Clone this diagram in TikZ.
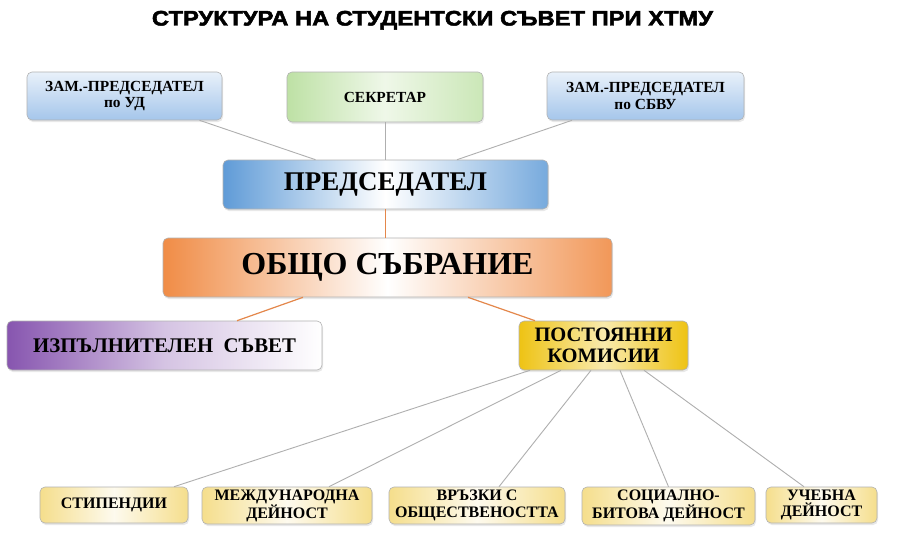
\documentclass[tikz,border=0pt]{standalone}
\usepackage{fontspec}
\usepackage{graphicx}
\setmainfont{Liberation Serif}
\newfontfamily\ttlfont[BoldFeatures={FakeBold=2.2}]{Liberation Sans}
\usetikzlibrary{shadows}
\definecolor{LineG}{RGB}{175,175,175}
\definecolor{LineO}{RGB}{228,135,75}
\definecolor{ZamB}{RGB}{165,198,235}
\definecolor{SekG}{RGB}{190,225,165}
\definecolor{PredB}{RGB}{95,155,215}
\definecolor{ObsO}{RGB}{240,140,70}
\definecolor{IzpP}{RGB}{135,85,175}
\definecolor{PkY}{RGB}{238,195,20}
\definecolor{KomY}{RGB}{245,222,140}
\tikzset{
  bbase/.style={draw=black!30,line width=0.6pt,rounded corners=5pt,align=center,inner sep=1pt,
    font=\bfseries,drop shadow={opacity=0.18,shadow xshift=1pt,shadow yshift=-2pt}},
  bzam/.style={bbase,top color=ZamB!25,bottom color=ZamB,font=\bfseries\fontsize{15.4}{16.8}\selectfont},
  bsek/.style={bbase,left color=SekG,right color=SekG!80,middle color=SekG!25,font=\bfseries\fontsize{15.4}{16.5}\selectfont},
  bpred/.style={bbase,left color=PredB,right color=PredB!85,middle color=white,font=\bfseries\fontsize{27}{29}\selectfont},
  bobs/.style={bbase,left color=ObsO,right color=ObsO!90,middle color=white,font=\bfseries\fontsize{32}{34}\selectfont},
  bizp/.style={bbase,left color=IzpP,right color=white,middle color=IzpP!35,font=\bfseries\fontsize{20.8}{22}\selectfont},
  bpk/.style={bbase,left color=PkY,right color=PkY,middle color=PkY!35,font=\bfseries\fontsize{20.5}{21.5}\selectfont},
  bkom/.style={bbase,left color=KomY,right color=KomY,middle color=KomY!15,font=\bfseries\fontsize{16}{16.5}\selectfont},
  blink/.style={draw=LineG,line width=0.9pt},
  borg/.style={draw=LineO,line width=1.2pt},
  bttl/.style={font=\ttlfont\bfseries\fontsize{21}{21}\selectfont,inner sep=0pt,anchor=base}
}

\begin{document}
\begin{tikzpicture}[x=1pt,y=-1pt]
\useasboundingbox[fill=white] (0,0) rectangle (899,543);
\node[bttl] (ttl) at (432.5,25.5) {\scalebox{1.13}[1]{СТРУКТУРА НА СТУДЕНТСКИ СЪВЕТ ПРИ ХТМУ}};
% top row
\node[bzam,minimum width=195pt,minimum height=48pt] (zud) at (124.5,96) {ЗАМ.-ПРЕДСЕДАТЕЛ\\ по УД};
\node[bsek,minimum width=196pt,minimum height=50pt] (sek) at (385,97) {СЕКРЕТАР};
\node[bzam,minimum width=197pt,minimum height=48pt] (zsb) at (645.5,96) {ЗАМ.-ПРЕДСЕДАТЕЛ\\ по СБВУ};
% middle
\node[bpred,minimum width=325pt,minimum height=49pt] (pred) at (385.5,184.5) {ПРЕДСЕДАТЕЛ};
\node[bobs,minimum width=449pt,minimum height=59pt] (obs) at (387.5,267.5) {ОБЩО СЪБРАНИЕ};
\node[bizp,minimum width=315pt,minimum height=49pt] (izp) at (164.5,345.5) {ИЗПЪЛНИТЕЛЕН\ \ СЪВЕТ};
\node[bpk,minimum width=169pt,minimum height=49pt] (pk) at (603.5,345.5) {ПОСТОЯННИ\\ КОМИСИИ};
% commissions
\node[bkom,minimum width=148pt,minimum height=36pt] (stp) at (114,505) {СТИПЕНДИИ};
\node[bkom,minimum width=170pt,minimum height=37pt] (mdn) at (287,505.5) {МЕЖДУНАРОДНА\\ ДЕЙНОСТ};
\node[bkom,minimum width=176pt,minimum height=37pt] (vrz) at (477,505.5) {ВРЪЗКИ С\\ ОБЩЕСТВЕНОСТТА};
\node[bkom,minimum width=173pt,minimum height=38pt] (sbd) at (668.5,506) {СОЦИАЛНО-\\ БИТОВА ДЕЙНОСТ};
\node[bkom,minimum width=111pt,minimum height=36pt] (ucd) at (821.5,505) {УЧЕБНА\\ ДЕЙНОСТ};
% links
\draw[blink] ([xshift=75pt]zud.south) -- ([xshift=-70pt]pred.north);
\draw[blink] (sek.south) -- (sek.south |- pred.north);
\draw[blink] ([xshift=-73.5pt]zsb.south) -- ([xshift=71.5pt]pred.north);
\draw[borg] (pred.south) -- (pred.south |- obs.north);
\draw[borg] ([xshift=-84.5pt]obs.south) -- ([xshift=72.5pt]izp.north);
\draw[borg] ([xshift=80.5pt]obs.south) -- ([xshift=-68.5pt]pk.north);
\draw[blink] ([xshift=-73.5pt]pk.south) -- ([xshift=60pt]stp.north);
\draw[blink] ([xshift=-42.5pt]pk.south) -- ([xshift=42pt]mdn.north);
\draw[blink] ([xshift=-12.5pt]pk.south) -- ([xshift=22pt]vrz.north);
\draw[blink] ([xshift=16.5pt]pk.south) -- (sbd.north);
\draw[blink] ([xshift=40.5pt]pk.south) -- ([xshift=-17.5pt]ucd.north);
\end{tikzpicture}
\end{document}
